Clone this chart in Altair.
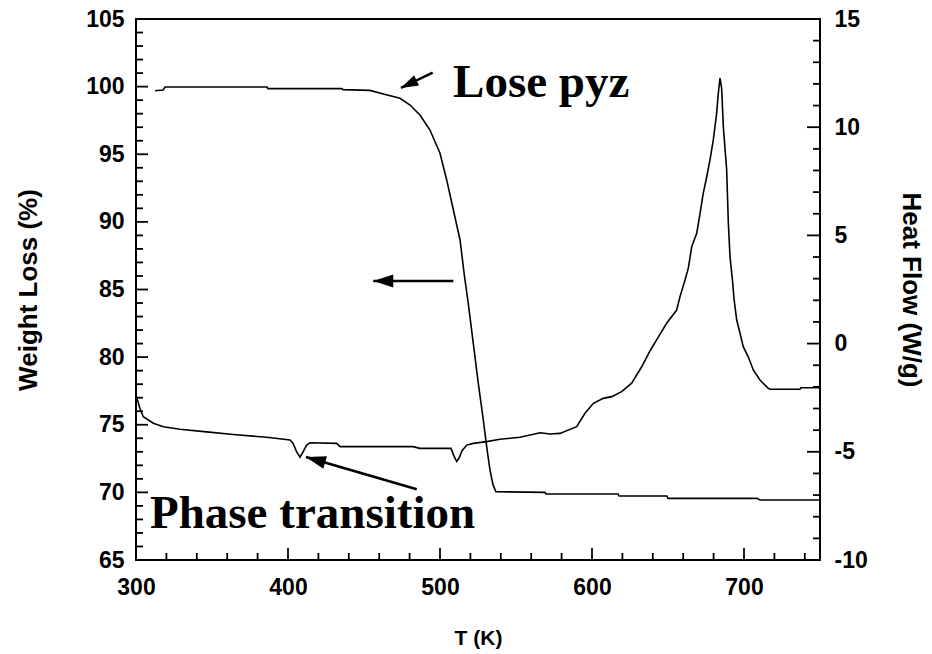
import altair as alt
import pandas as pd

# ---- TGA curve (left axis, weight %) ----
T_tga = [312.5, 317.8, 319.1, 386.2, 386.8, 435.5, 436.2, 453.9, 462.7, 473.7,
         480.3, 486.8, 493.4, 500.0, 504.4, 508.8, 513.2, 516.0, 518.6, 521.9,
         525.2, 528.5, 530.7, 532.9, 534.9, 536.8, 569.1, 569.7, 617.1, 617.8,
         649.3, 650.0, 708.6, 710.5, 750.0]
W_tga = [99.70, 99.75, 99.97, 99.97, 99.85, 99.85, 99.78, 99.72, 99.45, 99.14,
         98.64, 97.90, 96.79, 95.07, 93.10, 90.88, 88.66, 86.07, 83.98, 81.02,
         78.06, 75.35, 73.38, 71.65, 70.55, 70.05, 70.00, 69.88, 69.88, 69.73,
         69.73, 69.56, 69.56, 69.44, 69.44]

# ---- DSC curve (right axis, heat flow W/g) ----
T_dsc = [300.0, 302.6, 304.8, 311.4, 318.0, 328.9, 346.5, 364.0, 386.0, 401.3,
         403.3, 405.7, 407.9, 409.9, 412.3, 414.5, 432.0, 434.2, 482.2, 486.8,
         507.2, 509.2, 511.0, 512.5, 514.5, 517.6, 521.9, 530.7, 539.5, 552.6,
         565.8, 572.4, 578.9, 589.9, 595.4, 600.9, 607.4, 613.0, 619.5, 626.1,
         632.7, 638.2, 643.6, 649.1, 655.7, 657.9, 661.2, 663.4, 665.6, 668.9,
         671.1, 673.2, 675.5, 677.6, 679.8, 682.0, 683.1, 684.2, 685.3, 686.4,
         688.6, 689.7, 690.8, 692.6, 693.4, 695.2, 697.4, 699.5, 702.8, 706.1,
         710.5, 716.0, 717.1, 736.8, 737.5, 750.0]
H_dsc = [-2.38, -3.0, -3.38, -3.68, -3.84, -3.96, -4.08, -4.20, -4.33, -4.45,
         -4.6, -5.0, -5.25, -5.0, -4.69, -4.58, -4.61, -4.76, -4.76, -4.84,
         -4.84, -5.2, -5.45, -5.3, -4.95, -4.69, -4.61, -4.53, -4.42, -4.33,
         -4.12, -4.18, -4.15, -3.84, -3.22, -2.76, -2.53, -2.45, -2.22, -1.83,
         -1.07, -0.33, 0.30, 0.94, 1.55, 2.17, 2.94, 3.5, 4.48, 5.10,
         6.02, 6.95, 7.71, 8.48, 9.41, 10.64, 11.57, 12.27, 11.8, 10.02,
         8.02, 5.56, 4.02, 2.79, 2.09, 1.09, 0.48, -0.14, -0.61, -1.22,
         -1.68, -2.07, -2.11, -2.11, -2.04, -2.04]

# ---- tick labels ----
x_labels = [300, 400, 500, 600, 700]
w_labels = [65, 70, 75, 80, 85, 90, 95, 100, 105]
h_labels = [-10, -5, 0, 5, 10, 15]
x_minor = [v for v in range(300, 751, 20) if v % 100 != 0]
w_minor = [v for v in range(65, 106) if v % 5 != 0]
h_minor = [v for v in range(-10, 16) if v % 5 != 0]

# ---- annotations ----
arrow_tail_T = [495.2, 484.7, 508.8]
arrow_tail_W = [101.03, 70.23, 85.63]
arrow_tip_T = [474.3, 411.8, 456.1]
arrow_tip_W = [99.90, 72.62, 85.63]
arrow_angle = [154.2, 196.3, 180.0]
arrow_head = [300, 400, 400]
label_text = ["Lose pyz", "Phase transition"]
label_T = [508.6, 309.2]
label_W = [99.23, 67.37]

PW, PH = 684, 541
FONT = "Liberation Sans"
LFS = 23

xs = alt.Scale(domain=[300, 750], nice=False, zero=False)
ws = alt.Scale(domain=[65, 105], nice=False, zero=False)
hs = alt.Scale(domain=[-10, 15], nice=False, zero=False)

x_axis = alt.Axis(values=x_labels, ticks=False, domain=False, grid=False,
                  labelFont=FONT, labelFontWeight="bold", labelFontSize=LFS,
                  labelColor="black", labelPadding=16, labelFlush=False,
                  title="T (K)", titleFont=FONT, titleFontWeight="bold",
                  titleFontSize=21, titleColor="black", titleX=342, titleY=78,
                  titleAlign="center", titleBaseline="middle")
w_axis = alt.Axis(orient="left", values=w_labels, ticks=False, domain=False,
                  grid=False, labelFont=FONT, labelFontWeight="bold",
                  labelFontSize=LFS, labelColor="black", labelPadding=12,
                  labelFlush=False,
                  title="Weight Loss (%)", titleFont=FONT, titleFontWeight="bold",
                  titleFontSize=26, titleColor="black", titleX=-108, titleY=270.5,
                  titleAngle=270, titleAlign="center", titleBaseline="middle")
h_axis = alt.Axis(orient="right", values=h_labels, ticks=False, domain=False,
                  grid=False, labelFont=FONT, labelFontWeight="bold",
                  labelFontSize=LFS, labelColor="black", labelPadding=14,
                  labelFlush=False, labelExpr="'' + datum.value",
                  title="Heat Flow (W/g)", titleFont=FONT, titleFontWeight="bold",
                  titleFontSize=26, titleColor="black", titleX=90, titleY=270.5,
                  titleAngle=90, titleAlign="center", titleBaseline="middle")

tga_df = pd.DataFrame({"T": T_tga, "W": W_tga})
dsc_df = pd.DataFrame({"T": T_dsc, "H": H_dsc})

tga = alt.Chart(tga_df).mark_line(color="black", strokeWidth=1.6).encode(
    x=alt.X("T:Q", scale=xs, axis=x_axis),
    y=alt.Y("W:Q", scale=ws, axis=w_axis),
    order="T:Q",
)

dsc = alt.Chart(dsc_df).mark_line(color="black", strokeWidth=1.6).encode(
    x=alt.X("T:Q", scale=xs, axis=x_axis),
    y=alt.Y("H:Q", scale=hs, axis=h_axis),
    order="T:Q",
)


def yticks(vals, length, field, scale, right=False):
    x0 = PW if right else 0
    x1 = PW - length if right else length
    return alt.Chart(pd.DataFrame({field: vals})).mark_rule(
        color="black", strokeWidth=1.8).encode(
        y=alt.Y(f"{field}:Q", scale=scale, axis=None),
        x=alt.value(x0), x2=alt.value(x1))


def xticks(vals, length):
    return alt.Chart(pd.DataFrame({"T": vals})).mark_rule(
        color="black", strokeWidth=1.8).encode(
        x=alt.X("T:Q", scale=xs, axis=x_axis),
        y=alt.value(PH), y2=alt.value(PH - length))


arrows_df = pd.DataFrame({"T1": arrow_tail_T, "W1": arrow_tail_W,
                          "T2": arrow_tip_T, "W2": arrow_tip_W})
arrow_lines = alt.Chart(arrows_df).mark_rule(color="black", strokeWidth=2.5).encode(
    x=alt.X("T1:Q", scale=xs, axis=x_axis), x2="T2:Q",
    y=alt.Y("W1:Q", scale=ws, axis=None), y2="W2:Q")

heads_df = pd.DataFrame({"T": arrow_tip_T, "W": arrow_tip_W,
                         "a": arrow_angle, "s": arrow_head})
arrow_heads = alt.Chart(heads_df).mark_point(
    shape="M0,0L-2,-0.65L-2,0.65Z", filled=True, color="black",
    opacity=1, strokeWidth=0).encode(
    x=alt.X("T:Q", scale=xs, axis=x_axis),
    y=alt.Y("W:Q", scale=ws, axis=None),
    angle=alt.Angle("a:Q", scale=None),
    size=alt.Size("s:Q", scale=None))

labels_df = pd.DataFrame({"txt": label_text, "T": label_T, "W": label_W})
labels = alt.Chart(labels_df).mark_text(
    font="Liberation Serif", fontWeight="bold", fontSize=47, color="black",
    align="left", baseline="alphabetic").encode(
    x=alt.X("T:Q", scale=xs, axis=x_axis),
    y=alt.Y("W:Q", scale=ws, axis=None),
    text="txt:N")

chart = alt.layer(
    tga, dsc,
    yticks(w_labels, 12, "W", ws), yticks(w_minor, 7, "W", ws),
    yticks(h_labels, 13, "H", hs, right=True),
    yticks(h_minor, 7, "H", hs, right=True),
    xticks(x_labels, 12), xticks(x_minor, 7),
    arrow_lines, arrow_heads, labels,
).resolve_scale(y="independent").properties(
    width=PW, height=PH,
    autosize=alt.AutoSizeParams(type="none"),
    padding={"left": 136, "top": 19, "right": 112, "bottom": 94},
    background="white",
).configure_view(stroke="black", strokeWidth=2)

chart.save("out.html", embed_options={"renderer": "svg", "actions": False})
